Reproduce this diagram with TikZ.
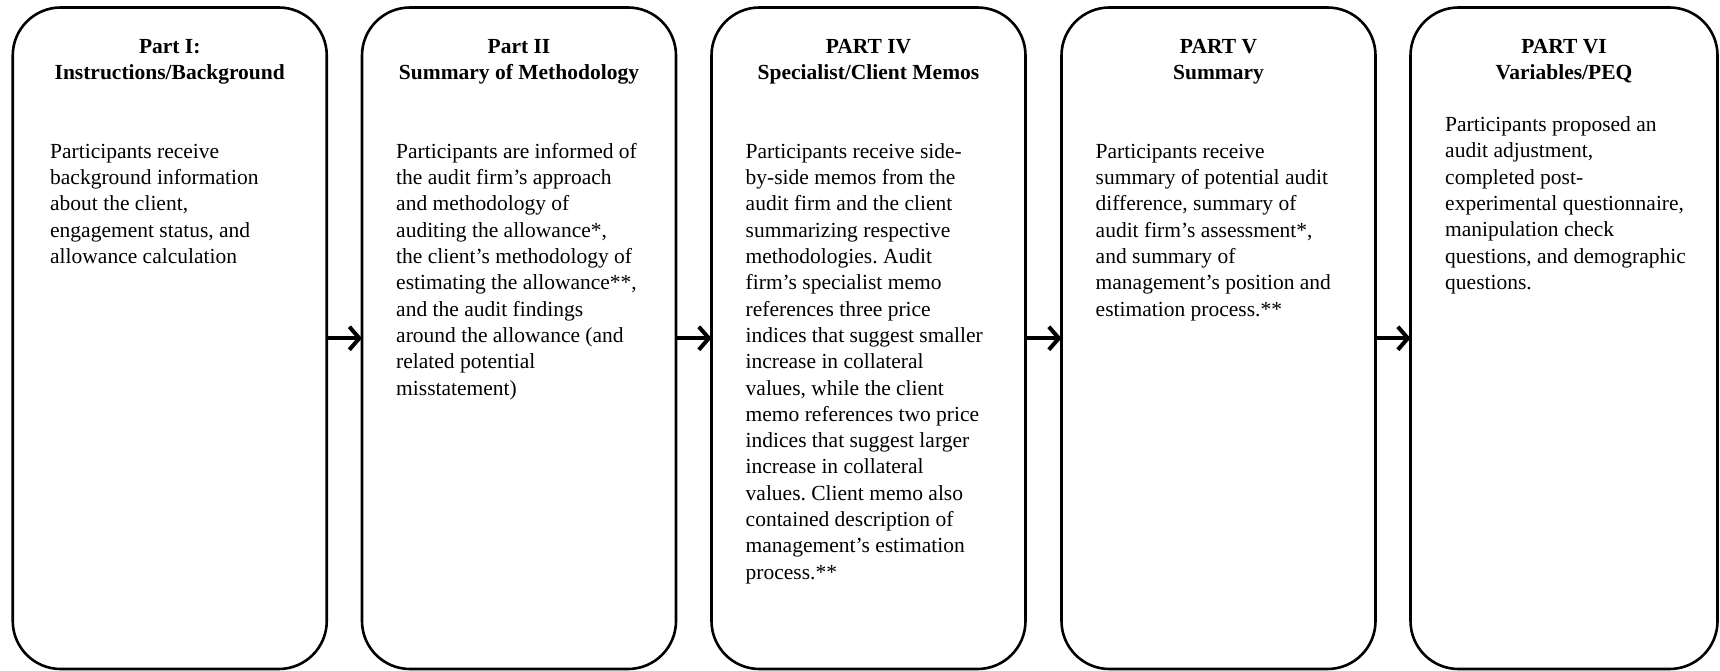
\documentclass[tikz,border=0pt]{standalone}
\usepackage{fontspec}
\setmainfont{Liberation Serif}
\usetikzlibrary{arrows.meta}
\frenchspacing

% body paragraphs: first baseline sits on the node's base anchor
\newcommand\partbody[1]{\begin{tabular}[t]{@{}l@{}}#1\end{tabular}}
\newcommand\parttitle[1]{\begin{tabular}[t]{@{}c@{}}#1\end{tabular}}

\begin{document}
\begin{tikzpicture}[x=1pt,y=-1pt,
  partbox/.style={draw=black, line width=2.6pt, rectangle, rounded corners=48pt,
    minimum width=314pt, minimum height=661.5pt, inner sep=0pt, outer sep=0pt},
  titletext/.style={inner sep=0pt, anchor=base, font=\fontsize{21.5}{26.3}\selectfont\bfseries},
  bodytext/.style={inner sep=0pt, anchor=base west, font=\fontsize{21.5}{26.3}\selectfont},
  flow/.style={line width=4pt, -{Straight Barb[length=10pt,width=23pt,line width=4pt]}}
]
\useasboundingbox (0,0) rectangle (1720,671);

% the five stages
\node[partbox] (b1) at (169.75,338.25) {};
\node[partbox] (b2) at (519,338.25) {};
\node[partbox] (b3) at (868.5,338.25) {};
\node[partbox] (b4) at (1218.5,338.25) {};
\node[partbox, minimum width=307pt] (b5) at (1564,338.25) {};

% headings
\node[titletext] (t1) at (169.75,53.5) {\parttitle{Part I:\\Instructions/Background}};
\node[titletext] (t2) at (519,53.5) {\parttitle{Part II\\Summary of Methodology}};
\node[titletext] (t3) at (868.5,53.5) {\parttitle{PART IV\\Specialist/Client Memos}};
\node[titletext] (t4) at (1218.5,53.5) {\parttitle{PART V\\Summary}};
\node[titletext] (t5) at (1564,53.5) {\parttitle{PART VI\\Variables/PEQ}};

% descriptions
\node[bodytext] (d1) at (50,158.3) {\partbody{Participants receive\\background information\\about the client,\\engagement status, and\\allowance calculation}};
\node[bodytext] (d2) at (396,158.3) {\partbody{Participants are informed of\\the audit firm’s approach\\and methodology of\\auditing the allowance*,\\the client’s methodology of\\estimating the allowance**,\\and the audit findings\\around the allowance (and\\related potential\\misstatement)}};
\node[bodytext] (d3) at (745.5,158.3) {\partbody{Participants receive side-\\by-side memos from the\\audit firm and the client\\summarizing respective\\methodologies. Audit\\firm’s specialist memo\\references three price\\indices that suggest smaller\\increase in collateral\\values, while the client\\memo references two price\\indices that suggest larger\\increase in collateral\\values. Client memo also\\contained description of\\management’s estimation\\process.**}};
\node[bodytext] (d4) at (1095.5,158.3) {\partbody{Participants receive\\summary of potential audit\\difference, summary of\\audit firm’s assessment*,\\and summary of\\management’s position and\\estimation process.**}};
\node[bodytext] (d5) at (1445,131.7) {\partbody{Participants proposed an\\audit adjustment,\\completed post-\\experimental questionnaire,\\manipulation check\\questions, and demographic\\questions.}};

% sequence arrows
\draw[flow] (b1.east) -- (b2.west);
\draw[flow] (b2.east) -- (b3.west);
\draw[flow] (b3.east) -- (b4.west);
\draw[flow] (b4.east) -- (b5.west);
\end{tikzpicture}
\end{document}
